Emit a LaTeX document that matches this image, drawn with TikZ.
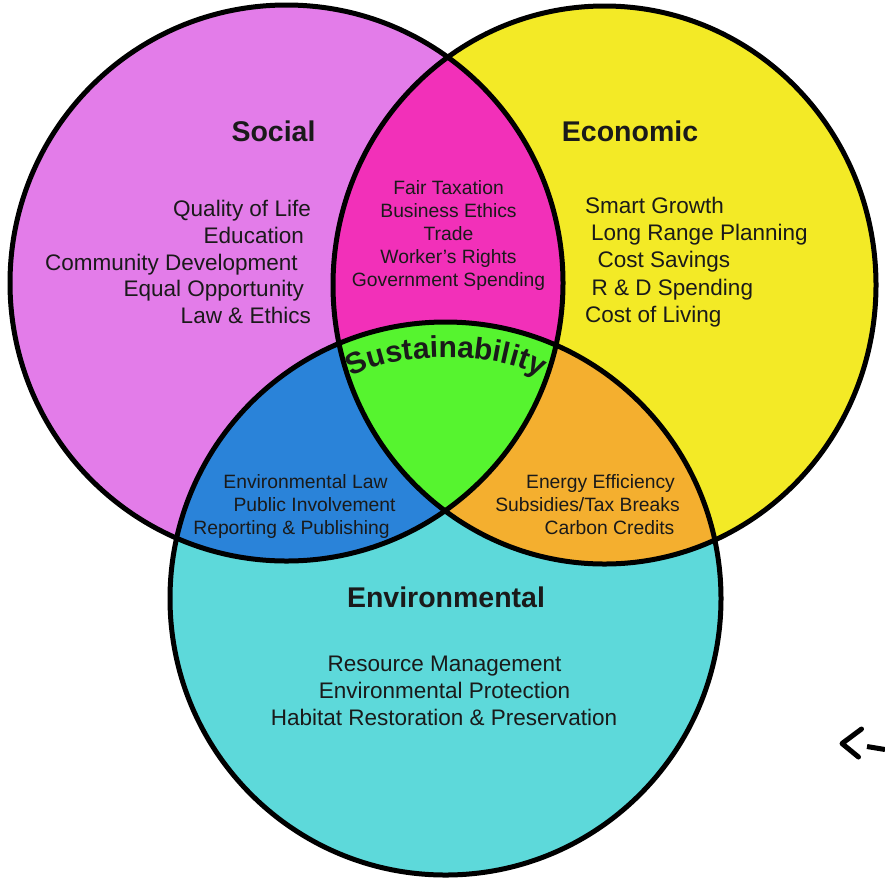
\documentclass[tikz,border=0pt]{standalone}
\usepackage{fontspec}
\setmainfont{Liberation Sans}
\usetikzlibrary{decorations.text}
\definecolor{socialc}{HTML}{E37CE9}
\definecolor{econc}{HTML}{F3EA26}
\definecolor{envc}{HTML}{5DD9DA}
\definecolor{magc}{HTML}{F230B9}
\definecolor{bluec}{HTML}{2A83D9}
\definecolor{orangec}{HTML}{F4AF2F}
\definecolor{greenc}{HTML}{56F42F}
\definecolor{txt}{HTML}{1A1A1A}
\tikzset{
  item/.style={font=\fontsize{22.5}{27}\selectfont, text=txt, inner sep=0pt},
  lens/.style={font=\fontsize{19.3}{23}\selectfont, text=txt, inner sep=0pt},
  heading/.style={font=\bfseries\fontsize{28.5}{34}\selectfont, text=txt, inner sep=0pt},
  ring/.style={line width=5pt, draw=black},
  stroke/.style={line width=5pt, line cap=round, line join=round, draw=black}
}
\begin{document}
\begin{tikzpicture}[x=1pt,y=-1pt]
\useasboundingbox (0,0) rectangle (885,879);
% base fills
\fill[socialc] (286.5,283) ellipse [x radius=276.5, y radius=278];
\fill[econc] (604.5,285) ellipse [x radius=271.5, y radius=279];
\fill[envc] (445.5,598.5) ellipse [x radius=275.5, y radius=276.5];
% pairwise intersections
\begin{scope}
  \clip (286.5,283) ellipse [x radius=276.5, y radius=278];
  \fill[magc] (604.5,285) ellipse [x radius=271.5, y radius=279];
\end{scope}
\begin{scope}
  \clip (286.5,283) ellipse [x radius=276.5, y radius=278];
  \fill[bluec] (445.5,598.5) ellipse [x radius=275.5, y radius=276.5];
\end{scope}
\begin{scope}
  \clip (604.5,285) ellipse [x radius=271.5, y radius=279];
  \fill[orangec] (445.5,598.5) ellipse [x radius=275.5, y radius=276.5];
\end{scope}
\begin{scope}
  \clip (286.5,283) ellipse [x radius=276.5, y radius=278];
  \clip (604.5,285) ellipse [x radius=271.5, y radius=279];
  \fill[greenc] (445.5,598.5) ellipse [x radius=275.5, y radius=276.5];
\end{scope}
% outlines
\draw[ring] (286.5,283) ellipse [x radius=276.5, y radius=278];
\draw[ring] (604.5,285) ellipse [x radius=271.5, y radius=279];
\draw[ring] (445.5,598.5) ellipse [x radius=275.5, y radius=276.5];

% titles
\node[heading, anchor=base] (tsoc) at (273.5,141.7) {Social};
\node[heading, anchor=base] (teco) at (630,141.7) {Economic};
\node[heading, anchor=base] (tenv) at (446,607.5) {Environmental};

% social items
\node[item, anchor=base east] (s1) at (311,216.5) {Quality of Life};
\node[item, anchor=base east] (s2) at (304,243) {Education};
\node[item, anchor=base east] (s3) at (298,270) {Community Development};
\node[item, anchor=base east] (s4) at (304,296.5) {Equal Opportunity};
\node[item, anchor=base east] (s5) at (311,323) {Law \& Ethics};

% economic items
\node[item, anchor=base west] (e1) at (585,213.5) {Smart Growth};
\node[item, anchor=base west] (e2) at (591,240.5) {Long Range Planning};
\node[item, anchor=base west] (e3) at (597.5,267.5) {Cost Savings};
\node[item, anchor=base west] (e4) at (591.5,295) {R \& D Spending};
\node[item, anchor=base west] (e5) at (585,322) {Cost of Living};

% environmental items
\node[item, anchor=base] (v1) at (444.5,671) {Resource Management};
\node[item, anchor=base] (v2) at (444.5,698) {Environmental Protection};
\node[item, anchor=base] (v3) at (444,725) {Habitat Restoration \& Preservation};

% social-economic lens
\node[lens, anchor=base] (m1) at (448.5,194) {Fair Taxation};
\node[lens, anchor=base] (m2) at (448.5,217) {Business Ethics};
\node[lens, anchor=base] (m3) at (448.5,240) {Trade};
\node[lens, anchor=base] (m4) at (448.5,263) {Worker’s Rights};
\node[lens, anchor=base] (m5) at (448.5,286) {Government Spending};

% social-environmental lens
\node[lens, anchor=base] (b1) at (305.5,488) {Environmental Law};
\node[lens, anchor=base] (b2) at (314.5,511) {Public Involvement};
\node[lens, anchor=base] (b3) at (291.5,534) {Reporting \& Publishing};

% economic-environmental lens
\node[lens, anchor=base] (o1) at (600.5,488) {Energy Efficiency};
\node[lens, anchor=base] (o2) at (587.5,511) {Subsidies/Tax Breaks};
\node[lens, anchor=base] (o3) at (609.5,534) {Carbon Credits};

% centre
\path[decorate, decoration={text along path, text align=center, text color=txt,
  text={|\bfseries\fontsize{30}{33}\selectfont|Sustainability}}]
  (345,383) .. controls (378,349) and (514,349) .. (547,383);

% partial hand-drawn arrow at right edge
\coordinate (a1) at (861.5,729);
\coordinate (a2) at (842,743.5);
\coordinate (a3) at (858.5,757);
\coordinate (d1) at (867,746.5);
\coordinate (d2) at (885,749.5);
\draw[stroke] (a1) -- (a2) -- (a3);
\draw[stroke, line cap=butt] (d1) -- (d2);
\end{tikzpicture}
\end{document}
